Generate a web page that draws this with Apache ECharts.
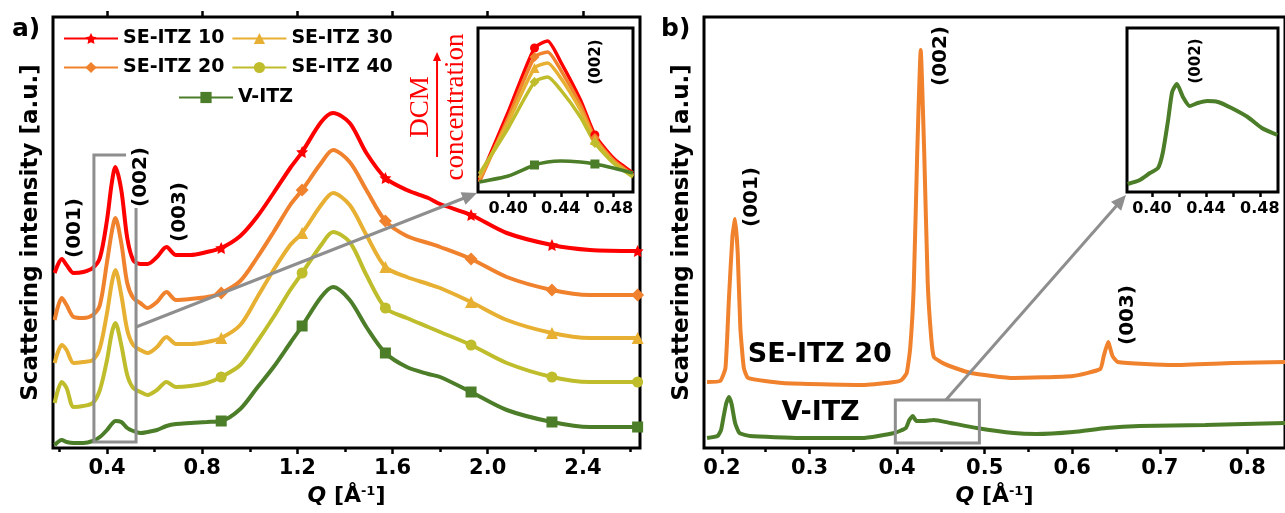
<!DOCTYPE html>
<html>
<head>
<meta charset="utf-8">
<script src="https://cdn.jsdelivr.net/npm/echarts@6/dist/echarts.min.js"></script>
<style>
html,body{margin:0;padding:0;background:#fff;}
#chart{width:1285px;height:513px;}
</style>
</head>
<body>
<div id="chart"></div>
<script>
// panel a - stacked curves (offset already in the values)
let qA = [0.18, 0.21, 0.23, 0.26, 0.30, 0.34, 0.37, 0.40, 0.42, 0.435, 0.46, 0.485, 0.51, 0.54, 0.57, 0.61, 0.65, 0.69, 0.75, 0.82,
          0.88, 0.96, 1.03, 1.10, 1.17, 1.22, 1.30, 1.35, 1.42, 1.49, 1.57, 1.66, 1.75, 1.80, 1.93, 2.08, 2.27, 2.43, 2.63];
let se10 = [175, 189, 183, 175, 176, 180, 190, 228, 265, 281, 258, 210, 188, 184, 184, 191, 201, 193, 193, 196,
            200, 212, 231, 255, 280, 296, 326, 335, 325, 295, 270, 258, 250, 244, 233, 215, 203, 198, 197];
let se20 = [128, 150, 143, 131, 130, 133, 143, 186, 216, 230, 205, 165, 150, 145, 140, 146, 156, 148, 149, 151,
            155, 167, 190, 216, 243, 258, 285, 298, 286, 258, 227, 212, 205, 201, 189, 171, 158, 153, 153];
let se30 = [85, 103, 98, 85, 86, 88, 100, 135, 165, 178, 153, 118, 103, 98, 95, 101, 111, 104, 104, 106,
            110, 123, 150, 178, 203, 215, 243, 255, 243, 213, 181, 171, 164, 160, 146, 128, 115, 110, 110];
let se40 = [45, 66, 60, 41, 42, 45, 58, 88, 115, 125, 103, 73, 60, 56, 53, 58, 66, 61, 62, 65,
            71, 83, 106, 131, 158, 175, 203, 216, 206, 173, 140, 130, 121, 116, 103, 85, 71, 66, 66];
let vitz = [3, 8, 6, 5, 5, 7, 11, 18, 24, 27, 26, 20, 17, 15, 16, 18, 22, 24, 25, 26,
            27, 39, 60, 81, 105, 122, 151, 161, 148, 121, 95, 81, 74, 71, 56, 38, 26, 21, 21];
let markA = [0.88, 1.22, 1.57, 1.93, 2.27, 2.63];

// panel a inset (002)
let qInA = [0.378, 0.40, 0.42, 0.43, 0.44, 0.455, 0.466, 0.48, 0.495];
let in10 = [12, 80, 144, 151, 130, 92, 57, 34, 19];
let in20 = [10, 74, 135, 140, 122, 87, 54, 32, 17];
let in30 = [14, 70, 124, 129, 114, 82, 52, 30, 16];
let in40 = [18, 64, 110, 115, 102, 75, 49, 29, 15];
let inV  = [10, 16, 27, 30, 31, 30, 28, 24, 19];
let markInA = [0.42, 0.466];

// panel b
let qB20 = [0.183, 0.198, 0.204, 0.208, 0.212, 0.215, 0.218, 0.221, 0.225, 0.23, 0.269, 0.36, 0.397, 0.405, 0.411, 0.415, 0.419, 0.423,
            0.427, 0.431, 0.435, 0.439, 0.442, 0.45, 0.457, 0.484, 0.533, 0.601, 0.632, 0.636, 0.641, 0.646, 0.652, 0.715, 0.783, 0.843];
let b20 = [66, 67, 80, 150, 212, 229, 195, 120, 80, 70, 65, 63, 66, 68, 75, 100, 161, 295,
           398, 295, 165, 110, 91, 86, 83, 75, 70, 72, 79, 92, 106, 92, 86, 83, 85, 86];
let qBV = [0.183, 0.195, 0.199, 0.202, 0.205, 0.208, 0.211, 0.215, 0.22, 0.232, 0.289, 0.36, 0.397, 0.41,
           0.414, 0.418, 0.422, 0.43, 0.442, 0.461, 0.491, 0.533, 0.559, 0.601, 0.639, 0.677, 0.752, 0.843];
let bV = [10, 12, 18, 32, 45, 51, 44, 25, 15, 12, 10, 10, 15, 20, 28, 32, 27, 27, 28, 25, 20, 15, 14, 16, 20, 22, 23, 25];

// panel b inset
let qInB = [0.382, 0.391, 0.3985, 0.4045, 0.408, 0.412, 0.415, 0.4185, 0.423, 0.428, 0.434, 0.441, 0.449, 0.459, 0.471, 0.4815, 0.493];
let inBV = [8, 12, 19, 24, 39, 72, 100, 108, 95, 86, 89, 91, 90, 84, 75, 64, 57];

// tick labels
let ticksA = [0.4, 0.8, 1.2, 1.6, 2.0, 2.4];
let minorA = [0.2, 0.6, 1.0, 1.4, 1.8, 2.2, 2.6];
let ticksB = [0.2, 0.3, 0.4, 0.5, 0.6, 0.7, 0.8];
let minorB = [0.25, 0.35, 0.45, 0.55, 0.65, 0.75];
let ticksIn = [0.40, 0.44, 0.48];
let allIn = [0.40, 0.42, 0.44, 0.46, 0.48];

const FONT = "'DejaVu Sans', sans-serif";
const C = {red: '#ff0000', orange: '#f0812d', yellow: '#e8b032', olive: '#bfbd2b', green: '#4c7d28', gray: '#8e8e8e'};
const STAR = 'path://M0,-10L2.9,-4L9.5,-3.1L4.7,1.5L5.9,8.1L0,5L-5.9,8.1L-4.7,1.5L-9.5,-3.1L-2.9,-4Z';

function pts(qs, vs, marks) {
    return qs.map((q, i) => (marks && marks.indexOf(q) >= 0) ? [q, vs[i]] : {value: [q, vs[i]], symbol: 'none'});
}

function line(name, color, sym, qs, vs, marks, xi, yi, w, size, smooth) {
    return {
        name: name, type: 'line', xAxisIndex: xi, yAxisIndex: yi,
        data: pts(qs, vs, marks), symbol: sym, symbolSize: size, showSymbol: true, showAllSymbol: true,
        smooth: smooth, lineStyle: {color: color, width: w}, itemStyle: {color: color},
        animation: false, z: 3
    };
}

function xax(grid, min, max, opts) {
    return Object.assign({
        type: 'value', gridIndex: grid, min: min, max: max, position: 'bottom',
        axisLine: {show: false, onZero: false}, splitLine: {show: false},
        axisTick: {show: true, length: 6, lineStyle: {color: '#000', width: 2.5}},
        axisLabel: {show: false}
    }, opts);
}

function yax(grid, max, name) {
    return {
        type: 'value', gridIndex: grid, min: 0, max: max,
        axisLine: {show: false}, axisTick: {show: false}, axisLabel: {show: false}, splitLine: {show: false},
        name: name || '', nameLocation: 'middle', nameGap: 10,
        nameTextStyle: {fontFamily: FONT, fontWeight: 'bold', fontSize: 23, color: '#000'}
    };
}

const labelStyle = (vals, size, dec, margin) => ({
    show: true, customValues: vals, fontFamily: FONT, fontWeight: 'bold', fontSize: size, color: '#000', margin: margin,
    formatter: v => v.toFixed(dec)
});

const qName = {
    name: '{q|Q} [Å{s|-1}]', nameLocation: 'middle', nameGap: 37,
    nameTextStyle: {
        fontFamily: FONT, fontWeight: 'bold', fontSize: 22, color: '#000',
        rich: {
            q: {fontFamily: FONT, fontWeight: 'bold', fontStyle: 'italic', fontSize: 22, color: '#000'},
            s: {fontFamily: FONT, fontWeight: 'bold', fontSize: 13, color: '#000', verticalAlign: 'top', padding: [0, 0, 10, 0]}
        }
    }
};

const legendBase = {
    orient: 'horizontal', padding: 0, itemGap: 7, itemWidth: 54, itemHeight: 14, selectedMode: false,
    textStyle: {fontFamily: FONT, fontWeight: 'bold', fontSize: 19, color: '#000'}
};

const box = {show: true, borderColor: '#000', borderWidth: 3, backgroundColor: 'rgba(0,0,0,0)'};

let chart = echarts.init(document.getElementById('chart'));

let option = {
    backgroundColor: '#fff',
    animation: false,
    grid: [
        Object.assign({left: 53, top: 17, width: 587, height: 431}, box),
        Object.assign({left: 478, top: 28, width: 155, height: 164}, box, {backgroundColor: '#fff'}),
        Object.assign({left: 704, top: 17, width: 584, height: 431}, box),
        Object.assign({left: 1127, top: 28, width: 151, height: 164}, box, {backgroundColor: '#fff'})
    ],
    legend: [
        Object.assign({data: ['SE-ITZ 10', 'SE-ITZ 30'], left: 63, top: 29}, legendBase),
        Object.assign({data: ['SE-ITZ 20', 'SE-ITZ 40'], left: 63, top: 58}, legendBase),
        Object.assign({data: ['V-ITZ'], left: 178, top: 88}, legendBase)
    ],
    xAxis: [
        xax(0, 0.173, 2.64, Object.assign({axisTick: {show: true, customValues: ticksA, length: 6, lineStyle: {color: '#000', width: 2.5}},
            axisLabel: labelStyle(ticksA, 21, 1, 10)}, qName)),
        xax(0, 0.173, 2.64, {axisTick: {show: true, customValues: minorA, length: 4, lineStyle: {color: '#000', width: 2.5}}}),
        xax(0, 0.173, 2.64, {position: 'top', axisTick: {show: true, customValues: ticksA, length: 6, lineStyle: {color: '#000', width: 2.5}}}),
        xax(1, 0.377, 0.495, {axisTick: {show: true, customValues: allIn, length: 5, lineStyle: {color: '#000', width: 2.5}},
            axisLabel: labelStyle(ticksIn, 16, 2, 9)}),
        xax(2, 0.1795, 0.843, Object.assign({axisTick: {show: true, customValues: ticksB, length: 6, lineStyle: {color: '#000', width: 2.5}},
            axisLabel: labelStyle(ticksB, 21, 1, 10)}, qName)),
        xax(2, 0.1795, 0.843, {axisTick: {show: true, customValues: minorB, length: 4, lineStyle: {color: '#000', width: 2.5}}}),
        xax(3, 0.3815, 0.4935, {axisTick: {show: true, customValues: allIn, length: 5, lineStyle: {color: '#000', width: 2.5}},
            axisLabel: labelStyle(ticksIn, 16, 2, 9)})
    ],
    yAxis: [
        yax(0, 431, 'Scattering intensity [a.u.]'),
        yax(1, 164),
        yax(2, 431, 'Scattering intensity [a.u.]'),
        yax(3, 164)
    ],
    series: [
        line('SE-ITZ 10', C.red, STAR, qA, se10, markA, 0, 0, 4, 12, 0.3),
        line('SE-ITZ 20', C.orange, 'diamond', qA, se20, markA, 0, 0, 4, 13, 0.3),
        line('SE-ITZ 30', C.yellow, 'triangle', qA, se30, markA, 0, 0, 4, 12, 0.3),
        line('SE-ITZ 40', C.olive, 'circle', qA, se40, markA, 0, 0, 4, 11, 0.3),
        line('V-ITZ', C.green, 'rect', qA, vitz, markA, 0, 0, 4, 11, 0.3),
        line('SE-ITZ 10', C.red, 'circle', qInA, in10, markInA, 3, 1, 3.5, 9, 0.2),
        line('SE-ITZ 20', C.orange, 'diamond', qInA, in20, markInA, 3, 1, 3.5, 10, 0.2),
        line('SE-ITZ 30', C.yellow, 'triangle', qInA, in30, markInA, 3, 1, 3.5, 10, 0.2),
        line('SE-ITZ 40', C.olive, 'diamond', qInA, in40, markInA, 3, 1, 3.5, 10, 0.2),
        line('V-ITZ', C.green, 'rect', qInA, inV, markInA, 3, 1, 3.5, 9, 0.2),
        line('SE-ITZ 20 b', C.orange, 'none', qB20, b20, null, 4, 2, 4, 0, 0.15),
        line('V-ITZ b', C.green, 'none', qBV, bV, null, 4, 2, 4, 0, 0.15),
        line('V-ITZ b inset', C.green, 'none', qInB, inBV, null, 6, 3, 4, 0, 0.2)
    ]
};

chart.setOption(option);

// annotations, anchored in data space
let pa = p => chart.convertToPixel({xAxisIndex: 0, yAxisIndex: 0}, p);
let pai = p => chart.convertToPixel({xAxisIndex: 3, yAxisIndex: 1}, p);
let pb = p => chart.convertToPixel({xAxisIndex: 4, yAxisIndex: 2}, p);
let pbi = p => chart.convertToPixel({xAxisIndex: 6, yAxisIndex: 3}, p);

function vtext(p, text, size, color, family, bold) {
    return {type: 'text', x: p[0], y: p[1], rotation: Math.PI / 2, z: 100,
        style: {text: text, fontSize: size, fontWeight: bold === false ? 'normal' : 'bold', fontFamily: family || FONT,
            fill: color || '#000', align: 'center', verticalAlign: 'middle'}};
}
function arrow(p0, p1, color, w, head) {
    let dx = p1[0] - p0[0], dy = p1[1] - p0[1], L = Math.hypot(dx, dy), ux = dx / L, uy = dy / L;
    let bx = p1[0] - ux * head, by = p1[1] - uy * head, hw = head * 0.45;
    return [
        {type: 'line', z: 100, shape: {x1: p0[0], y1: p0[1], x2: bx + ux * 2, y2: by + uy * 2}, style: {stroke: color, lineWidth: w}},
        {type: 'polygon', z: 100, shape: {points: [[p1[0], p1[1]], [bx - uy * hw, by + ux * hw], [bx + uy * hw, by - ux * hw]]}, style: {fill: color}}
    ];
}

let insA = pai([0.377, 0]), insB = pbi([0.3815, 0]);
let bracket = [[0.48, 293], [0.345, 293], [0.345, 6], [0.522, 6], [0.522, 240]].map(pa);
let rb0 = pb([0.398, 48]), rb1 = pb([0.494, 5]);

let graphic = [
    {type: 'text', left: 12, top: 17, z: 100, style: {text: 'a)', fontSize: 25, fontWeight: 'bold', fontFamily: FONT, fill: '#000'}},
    {type: 'text', left: 661, top: 17, z: 100, style: {text: 'b)', fontSize: 25, fontWeight: 'bold', fontFamily: FONT, fill: '#000'}},
    vtext(pa([0.266, 220]), '(001)', 20),
    vtext(pa([0.543, 271]), '(002)', 20),
    vtext(pa([0.707, 236]), '(003)', 20),
    vtext(pai([0.467, 130]), '(002)', 15),
    {type: 'polyline', z: 100, shape: {points: bracket}, style: {stroke: C.gray, lineWidth: 3, fill: null}},
    ...arrow(pa([0.522, 121]), [insA[0] - 1, insA[1] + 1], C.gray, 3, 15),
    vtext(pa([1.719, 341]), 'DCM', 27, C.red, "'Liberation Serif', serif", false),
    vtext(pa([1.866, 341]), 'concentration', 27, C.red, "'Liberation Serif', serif", false),
    ...arrow(pa([1.787, 291]), pa([1.787, 396]), C.red, 2, 9),
    vtext(pb([0.234, 251]), '(001)', 20),
    vtext(pb([0.45, 392]), '(002)', 20),
    vtext(pb([0.664, 133]), '(003)', 20),
    vtext(pbi([0.4326, 131]), '(002)', 15),
    {type: 'text', z: 100, x: pb([0.2295, 93])[0], y: pb([0.2295, 93])[1],
        style: {text: 'SE-ITZ 20', fontSize: 27, fontWeight: 'bold', fontFamily: FONT, fill: '#000', align: 'left', verticalAlign: 'middle'}},
    {type: 'text', z: 100, x: pb([0.268, 35])[0], y: pb([0.268, 35])[1],
        style: {text: 'V-ITZ', fontSize: 27, fontWeight: 'bold', fontFamily: FONT, fill: '#000', align: 'left', verticalAlign: 'middle'}},
    {type: 'rect', z: 100, shape: {x: rb0[0], y: rb0[1], width: rb1[0] - rb0[0], height: rb1[1] - rb0[1]},
        style: {stroke: C.gray, lineWidth: 3, fill: null}},
    ...arrow(pb([0.4557, 48]), [insB[0] - 1, insB[1] + 3], C.gray, 3, 15)
];

chart.setOption({graphic: graphic});
</script>
</body>
</html>
